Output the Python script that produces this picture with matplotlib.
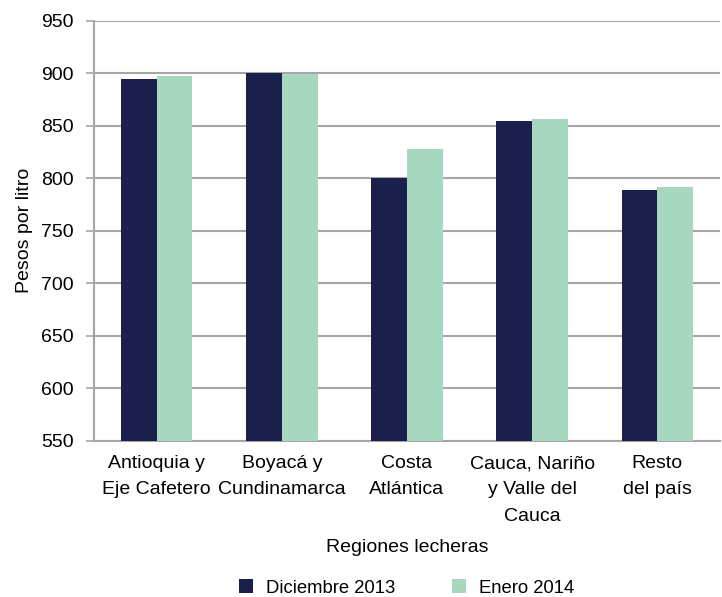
import matplotlib
matplotlib.use("Agg")
import matplotlib.pyplot as plt
import numpy as np

categories = ["Antioquia y\nEje Cafetero", "Boyacá y\nCundinamarca", "Costa\nAtlántica",
              "Cauca, Nariño\ny Valle del\nCauca", "Resto\ndel país"]
series_names = ["Diciembre 2013", "Enero 2014"]
dic_2013 = [894, 900, 800, 854, 789]
ene_2014 = [897, 899, 828, 856, 792]
yticks = [550, 600, 650, 700, 750, 800, 850, 900, 950]

plt.rcParams['font.family'] = ['Liberation Sans', 'DejaVu Sans']
dark = "#1b1f4b"
light = "#a7d8bf"
grid_c = "#a6a6a6"
fs = 14

fig = plt.figure(figsize=(7.22, 5.97), dpi=100)
ax = fig.add_axes([94/722, 1-440.5/597, (720-94)/722, (440.5-20.7)/597])

x = np.arange(len(categories))
w = 0.2855
ax.bar(x - w/2, dic_2013, width=w, color=dark, label=series_names[0], zorder=3)
ax.bar(x + w/2, ene_2014, width=w, color=light, label=series_names[1], zorder=3)

ax.set_xlim(-0.5, len(categories) - 0.5)
ax.set_ylim(550, 950)
ax.set_yticks(yticks)
ax.set_yticklabels([str(v) for v in yticks], fontsize=fs)
ax.set_xticks(x)
ax.set_xticklabels(categories, fontsize=fs, linespacing=1.72)
ax.tick_params(axis='x', length=0, pad=10.5)
ax.tick_params(axis='y', length=6, width=1.2, color=grid_c, pad=8.5, direction='out')
ax.yaxis.grid(True, color=grid_c, linewidth=1.5, zorder=0)
ax.set_axisbelow(True)
for s in ['top', 'right']:
    ax.spines[s].set_visible(False)
for s in ['left', 'bottom']:
    ax.spines[s].set_color(grid_c)
    ax.spines[s].set_linewidth(1.5)

ax.set_ylabel("Pesos por litro", fontsize=fs)
ax.yaxis.set_label_coords(-0.098, 0.5)
ax.set_xlabel("Regiones lecheras", fontsize=fs)
ax.xaxis.set_label_coords(0.5, -0.235)

fig.legend(loc='center', bbox_to_anchor=(406.5/722, 1-588/597), ncol=2, frameon=False,
           fontsize=13.3, handlelength=0.76, handleheight=0.76, handletextpad=0.7,
           columnspacing=3.1)

fig.savefig("out.png", dpi=100)
